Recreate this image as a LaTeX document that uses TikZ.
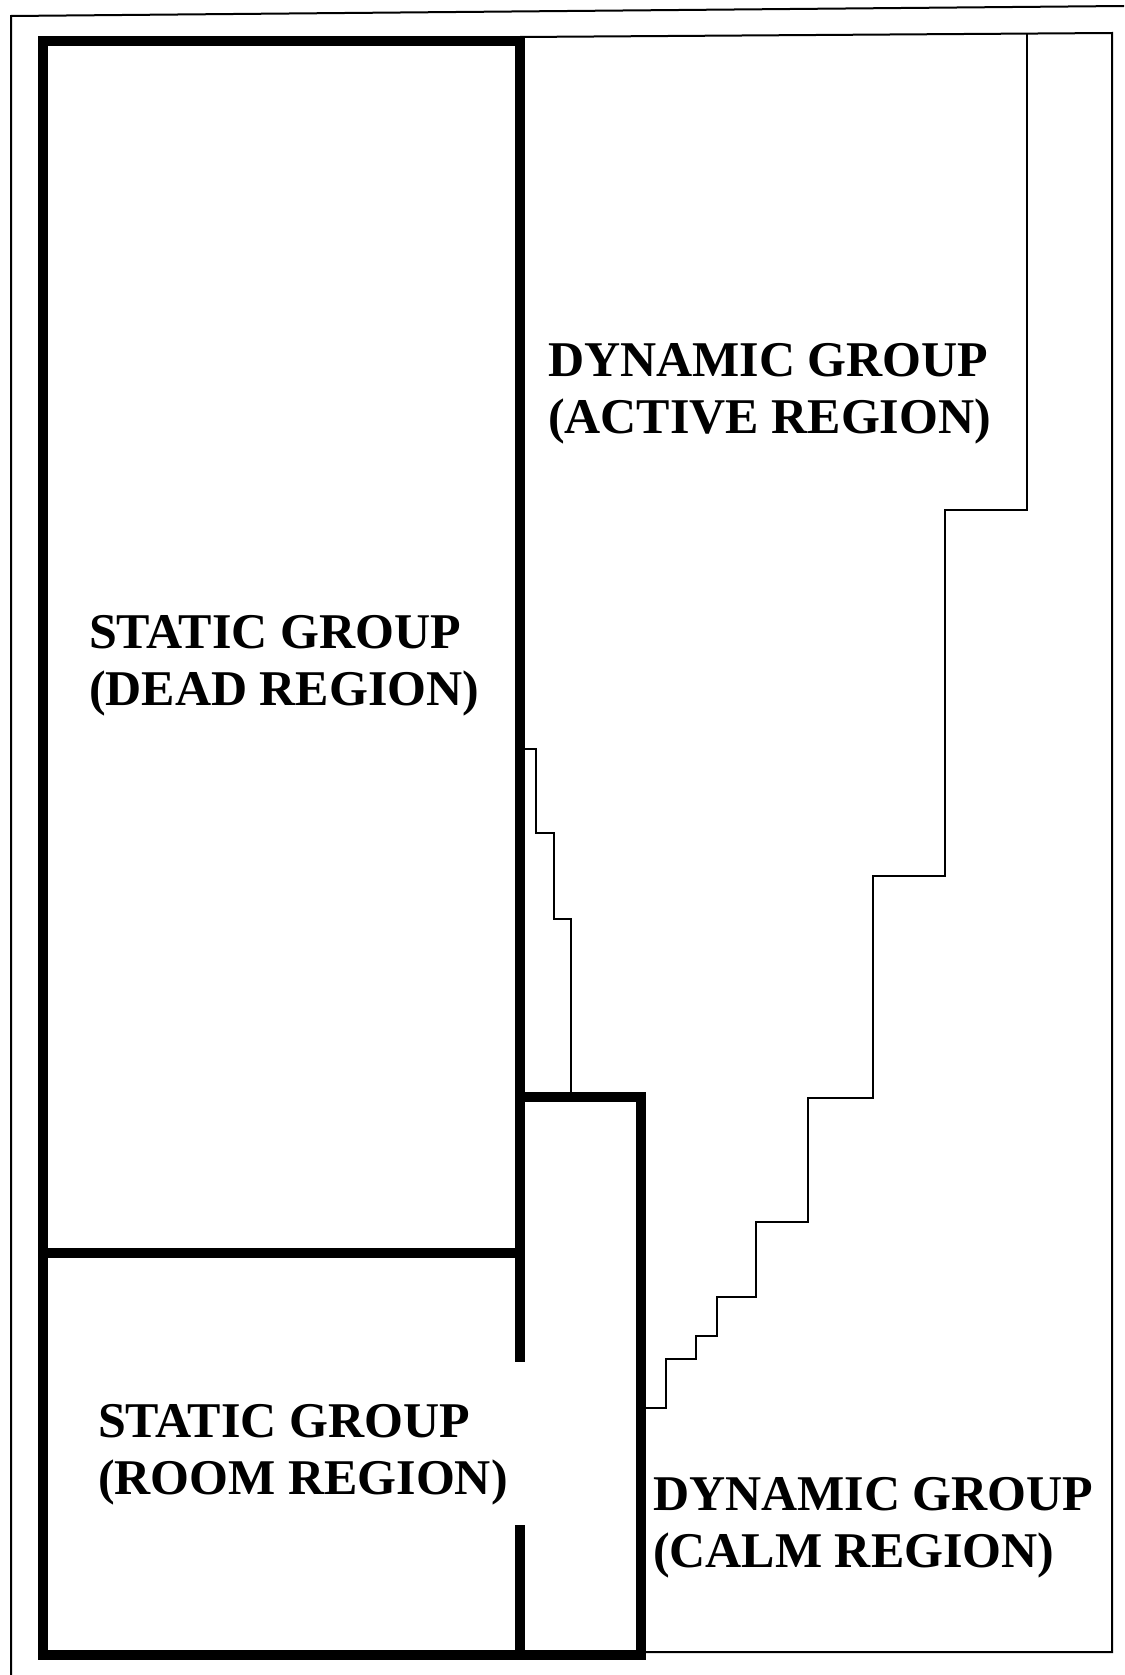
\documentclass[tikz,border=0pt]{standalone}
\usepackage{fontspec}
\setmainfont{Liberation Serif}
\begin{document}
\begin{tikzpicture}[x=1pt,y=-1pt,
  wall/.style={line width=10pt,line cap=rect,line join=miter},
  border/.style={line width=2pt,line join=miter},
  regionlabel/.style={anchor=base west,inner sep=0pt,outer sep=0pt,
    font=\fontsize{50}{57}\selectfont\bfseries}]
\useasboundingbox[fill=white] (0,0) rectangle (1124,1675);

% outer sheet frame (top and left edges)
\draw[border] (1124,6) -- (11,16) -- (11,1675);

% dynamic area outline
\draw[border] (520,37) -- (1112,33) -- (1112,1652) -- (641,1652);

% boundary between active and calm regions
\draw[border] (1027,34) -- (1027,510) -- (945,510) -- (945,876) -- (873,876)
  -- (873,1098) -- (808,1098) -- (808,1222) -- (756,1222) -- (756,1297)
  -- (717,1297) -- (717,1336) -- (696,1336) -- (696,1359) -- (666,1359)
  -- (666,1408) -- (641,1408);

% small staircase beside the dead region
\draw[border] (520,749) -- (536,749) -- (536,833) -- (554,833) -- (554,919)
  -- (571,919) -- (571,1097);

% static walls
\draw[wall] (520,1357) -- (520,41) -- (43,41) -- (43,1655) -- (641,1655)
  -- (641,1097) -- (520,1097);
\draw[wall] (520,1530) -- (520,1655);
\draw[wall,line cap=butt] (43,1253) -- (520,1253);

% region labels
\node[regionlabel] (active1) at (548,376) {DYNAMIC GROUP};
\node[regionlabel] (active2) at (548,433) {(ACTIVE REGION)};
\node[regionlabel] (dead1) at (89,648) {STATIC GROUP};
\node[regionlabel] (dead2) at (89,705) {(DEAD REGION)};
\node[regionlabel] (room1) at (98,1437) {STATIC GROUP};
\node[regionlabel] (room2) at (98,1494) {(ROOM REGION)};
\node[regionlabel] (calm1) at (653,1510) {DYNAMIC GROUP};
\node[regionlabel] (calm2) at (653,1567) {(CALM REGION)};
\end{tikzpicture}
\end{document}
